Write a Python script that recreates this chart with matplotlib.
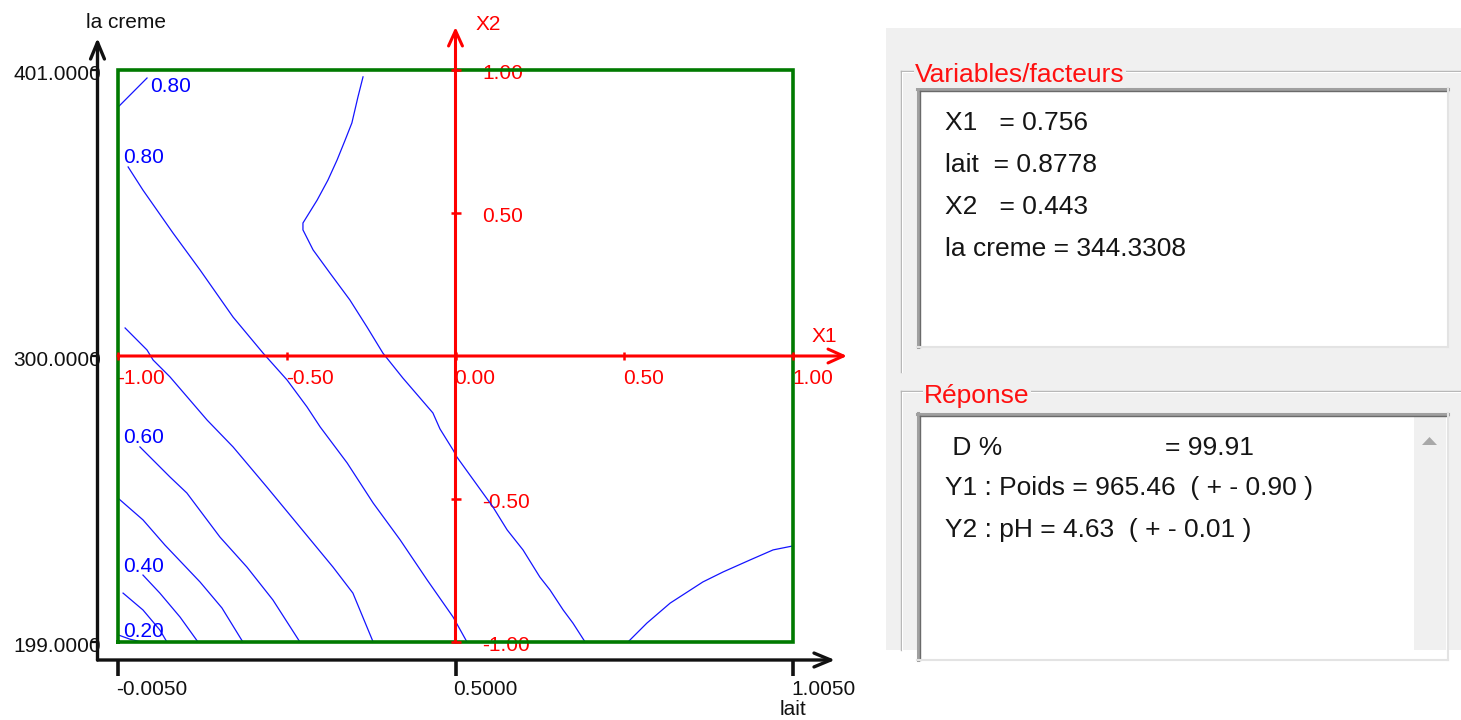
import matplotlib.pyplot as plt
from matplotlib import font_manager
from matplotlib.patches import Rectangle, Polygon

W, H = 1461, 720

# factor ranges (natural units) and their tick values
lait_range = (-0.005, 1.005)
creme_range = (199.0, 401.0)
lait_ticks = [-0.005, 0.5, 1.005]
lait_labels = ["-0.0050", "0.5000", "1.0050"]
creme_ticks = [199.0, 300.0, 401.0]
creme_labels = ["199.0000", "300.0000", "401.0000"]

# coded axes X1 / X2
x1_ticks = [-1.0, -0.5, 0.0, 0.5, 1.0]
x1_labels = ["-1.00", "-0.50", "0.00", "0.50", "1.00"]
x2_ticks = [-1.0, -0.5, 0.5, 1.0]
x2_labels = ["-1.00", "-0.50", "0.50", "1.00"]

# iso-desirability curves, coded units
curve_levels = [0.2, 0.3, 0.4, 0.5, 0.6, 0.7, 0.8, 0.8, 0.9, 0.9]
curve_x1 = [
    [-1.0, -0.965, -0.93],
    [-0.985, -0.926, -0.876, -0.855],
    [-0.926, -0.876, -0.816, -0.763],
    [-0.997, -0.926, -0.861, -0.757, -0.692, -0.630],
    [-0.935, -0.846, -0.796, -0.698, -0.618, -0.541, -0.461],
    [-0.979, -0.914, -0.896, -0.846, -0.736, -0.659, -0.559, -0.461, -0.363,
     -0.304, -0.244],
    [-1.0, -0.914],
    [-0.970, -0.926, -0.837, -0.757, -0.659, -0.570, -0.499, -0.440, -0.401,
     -0.321, -0.244, -0.164, -0.084, -0.007, 0.034],
    [-0.274, -0.289, -0.307, -0.327, -0.351, -0.378, -0.410, -0.452, -0.452,
     -0.422, -0.372, -0.313, -0.262, -0.215, -0.156, -0.067, -0.046, -0.007,
     0.004, 0.111, 0.153, 0.200, 0.250, 0.280, 0.319, 0.348, 0.384],
    [0.511, 0.567, 0.636, 0.733, 0.793, 0.873, 0.941, 1.0],
]
curve_x2 = [
    [-0.975, -0.99, -1.0],
    [-0.829, -0.888, -0.958, -1.0],
    [-0.766, -0.829, -0.913, -1.0],
    [-0.500, -0.573, -0.661, -0.790, -0.881, -1.0],
    [-0.318, -0.423, -0.479, -0.633, -0.738, -0.853, -1.0],
    [0.098, 0.021, -0.014, -0.073, -0.224, -0.318, -0.458, -0.598, -0.738,
     -0.829, -1.0],
    [0.87, 0.972],
    [0.661, 0.580, 0.430, 0.301, 0.136, 0.010, -0.084, -0.178, -0.248,
     -0.374, -0.514, -0.643, -0.783, -0.913, -1.0],
    [0.976, 0.906, 0.815, 0.755, 0.685, 0.615, 0.545, 0.465, 0.441,
     0.371, 0.290, 0.196, 0.101, 0.010, -0.077, -0.199, -0.255, -0.329,
     -0.353, -0.528, -0.608, -0.678, -0.773, -0.818, -0.888, -0.934, -1.0],
    [-1.0, -0.934, -0.864, -0.790, -0.755, -0.713, -0.678, -0.664],
]
label_levels = [0.8, 0.8, 0.6, 0.4, 0.2]
label_x1 = [-0.905, -0.985, -0.985, -0.985, -0.985]
label_x2 = [0.923, 0.675, -0.304, -0.755, -0.983]

# side panel values
factor_names = ["X1   ", "lait  ", "X2   ", "la creme "]
factor_values = [0.756, 0.8778, 0.443, 344.3308]
factor_digits = [3, 4, 3, 4]
desirability = 99.91
response_names = ["Y1 : Poids", "Y2 : pH"]
response_values = [965.46, 4.63]
response_errors = [0.90, 0.01]

plot_font = ["Liberation Sans", "DejaVu Sans"]
available = {f.name for f in font_manager.fontManager.ttflist}
if "Liberation Sans Narrow" in available:
    panel_font, panel_size = ["Liberation Sans Narrow", "DejaVu Sans"], 23
else:
    panel_font, panel_size = ["Liberation Sans", "DejaVu Sans"], 19

fig = plt.figure(figsize=(W / 100, H / 100), dpi=100)
fig.patch.set_facecolor("white")

# ---- side panel, drawn in pixel units ----
pan = fig.add_axes([0, 0, 1, 1], zorder=0)
pan.set_xlim(0, W)
pan.set_ylim(H, 0)
pan.axis("off")
pan.add_patch(Rectangle((886, 28), W - 886, 622, color="#F0F0F0", lw=0))


def group_frame(top, bottom):
    pan.plot([900.5, W], [top, top], color="#B4B4B4", lw=1)
    pan.plot([900.5, W], [top + 1, top + 1], color="white", lw=0.8)
    pan.plot([900.5, 900.5], [top, bottom], color="#B4B4B4", lw=1)
    pan.plot([901.5, 901.5], [top + 1, bottom], color="white", lw=0.8)


def sunken_box(x0, y0, x1, y1):
    pan.add_patch(Rectangle((x0, y0), x1 - x0, y1 - y0, color="white", lw=0))
    pan.plot([x0, x1], [y0 + 1, y0 + 1], color="#A0A0A0", lw=2.2)
    pan.plot([x0 + 1, x0 + 1], [y0, y1], color="#A0A0A0", lw=2.2)
    pan.plot([x0 + 3, x1], [y0 + 3, y0 + 3], color="#6A6A6A", lw=1)
    pan.plot([x0 + 3, x0 + 3], [y0 + 3, y1], color="#6A6A6A", lw=1)
    pan.plot([x1, x1], [y0, y1], color="#E3E3E3", lw=1.5)
    pan.plot([x0, x1], [y1, y1], color="#E3E3E3", lw=1.5)


group_frame(71, 372)
sunken_box(917, 88, 1448, 347)
pan.text(915, 82, "Variables/facteurs", color="#FF1010", family=panel_font,
         fontsize=panel_size, va="baseline",
         bbox=dict(facecolor="#F0F0F0", edgecolor="none", pad=1))

group_frame(390.5, 650)
sunken_box(917, 413, 1448, 660)
pan.add_patch(Rectangle((1414, 416), 32, 240, color="#F0F0F0", lw=0))
pan.add_patch(Polygon([[1422, 445], [1437, 445], [1429.5, 437]],
                      closed=True, color="#A8A8A8", lw=0))
pan.text(924, 403, "Réponse", color="#FF1010", family=panel_font,
         fontsize=panel_size, va="baseline",
         bbox=dict(facecolor="#F0F0F0", edgecolor="none", pad=1))
pan.add_patch(Rectangle((0, 650), W, H - 650, color="white", lw=0))

for i, (name, val, nd) in enumerate(zip(factor_names, factor_values,
                                        factor_digits)):
    pan.text(945, 130 + 42 * i, f"{name}= {val:.{nd}f}", color="#151515",
             family=panel_font, fontsize=panel_size, va="baseline")

pan.text(945, 455, " D %", color="#151515", family=panel_font,
         fontsize=panel_size, va="baseline")
pan.text(1165, 455, f"= {desirability:.2f}", color="#151515",
         family=panel_font, fontsize=panel_size, va="baseline")
for i, (name, val, err) in enumerate(zip(response_names, response_values,
                                         response_errors)):
    pan.text(945, 495 + 42 * i, f"{name} = {val:.2f}  ( + - {err:.2f} )",
             color="#151515", family=panel_font, fontsize=panel_size,
             va="baseline")

# ---- contour plot, coded units ----
ax = fig.add_axes([118 / W, 1 - 642 / H, 675 / W, 572 / H], zorder=1)
ax.set_xlim(-1, 1)
ax.set_ylim(-1, 1)
ax.axis("off")
PX, PY = 2 / 675, 2 / 572  # one screen pixel in coded units


def to_x1(v):
    mid = (lait_range[0] + lait_range[1]) / 2
    return (v - mid) / ((lait_range[1] - lait_range[0]) / 2)


def to_x2(v):
    mid = (creme_range[0] + creme_range[1]) / 2
    return (v - mid) / ((creme_range[1] - creme_range[0]) / 2)


for xs, ys in zip(curve_x1, curve_x2):
    ax.plot(xs, ys, color="#1414FF", lw=0.9, zorder=2, clip_on=False)
for lv, lx, ly in zip(label_levels, label_x1, label_x2):
    ax.text(lx, ly, f"{lv:.2f}", color="#0000FF", family=plot_font,
            fontsize=15, va="baseline", zorder=2)

# design-space frame
ax.plot([-1, 1, 1, -1, -1], [-1, -1, 1, 1, -1], color="#007A00", lw=2.6,
        zorder=4, clip_on=False, solid_joinstyle="miter")

# coded axes in red
red = "#FF0000"
arrow = dict(arrowstyle="->,head_length=0.55,head_width=0.25", color=red,
             lw=2.2, shrinkA=0, shrinkB=0, mutation_scale=20)
ax.annotate("", xy=(1 + 54 * PX, 0), xytext=(-1, 0), arrowprops=arrow,
            annotation_clip=False, zorder=5)
ax.annotate("", xy=(0, 1 + 43 * PY), xytext=(0, -1), arrowprops=arrow,
            annotation_clip=False, zorder=5)
ax.plot(x1_ticks, [0] * len(x1_ticks), ls="none", marker="|", ms=6, mew=1.8,
        color=red, zorder=5, clip_on=False)
ax.plot([0] * len(x2_ticks), x2_ticks, ls="none", marker="_", ms=7, mew=1.8,
        color=red, zorder=5, clip_on=False)
for t, lab in zip(x1_ticks, x1_labels):
    ax.text(t - 1 * PX, -28 * PY, lab, color=red, family=plot_font,
            fontsize=15, va="baseline", ha="left", zorder=1)
for t, lab in zip(x2_ticks, x2_labels):
    ax.text(27 * PX, t - 9 * PY, lab, color=red, family=plot_font,
            fontsize=15, va="baseline", ha="left", zorder=1)
ax.text(1 + 19 * PX, 14 * PY, "X1", color=red, family=plot_font,
        fontsize=15, va="baseline", zorder=1)
ax.text(20 * PX, 1 + 40 * PY, "X2", color=red, family=plot_font,
        fontsize=15, va="baseline", zorder=1)

# natural-unit axes in black
ink = "#111111"
ax_x = -1 - 20.5 * PX
ax_y = -1 - 18 * PY
black_arrow = dict(arrowstyle="->,head_length=0.6,head_width=0.25",
                   color=ink, lw=2.4, shrinkA=0, shrinkB=0,
                   mutation_scale=20)
ax.annotate("", xy=(1 + 42 * PX, ax_y), xytext=(ax_x, ax_y),
            arrowprops=black_arrow, annotation_clip=False, zorder=6)
ax.annotate("", xy=(ax_x, 1 + 32 * PY), xytext=(ax_x, ax_y),
            arrowprops=black_arrow, annotation_clip=False, zorder=6)
lx = [to_x1(t) for t in lait_ticks]
ax.vlines(lx, ax_y - 16 * PY, ax_y, color=ink, lw=2.6, zorder=6,
          clip_on=False)
for x, lab in zip(lx, lait_labels):
    ax.text(x - 2 * PX, ax_y - 35 * PY, lab, color=ink, family=plot_font,
            fontsize=15, va="baseline", ha="left", zorder=1)
cy = [to_x2(t) for t in creme_ticks]
ax.hlines(cy, ax_x - 7 * PX, ax_x, color=ink, lw=1.6, zorder=6,
          clip_on=False)
for y, lab in zip(cy, creme_labels):
    ax.text(ax_x + 4 * PX, y - 10 * PY, lab, color=ink, family=plot_font,
            fontsize=15, va="baseline", ha="right", zorder=1)
ax.text(ax_x - 12 * PX, 1 + 42 * PY, "la creme", color=ink, family=plot_font,
        fontsize=15, va="baseline", zorder=1)
ax.text(1 - 13 * PX, -1 - 73 * PY, "lait", color=ink, family=plot_font,
        fontsize=15, va="baseline", zorder=1)

fig.savefig("out.png", dpi=100)
